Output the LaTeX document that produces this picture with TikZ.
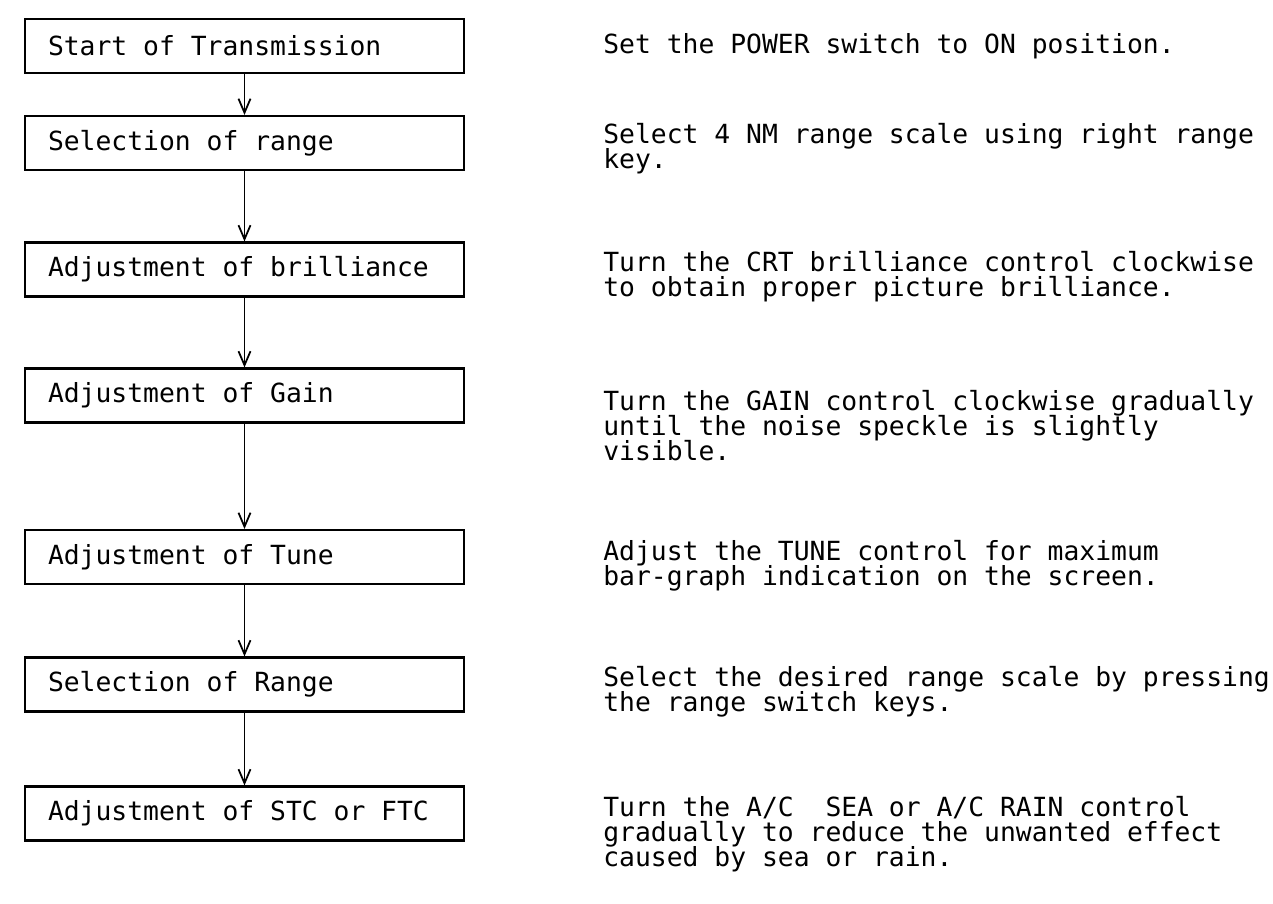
\documentclass[tikz,border=0pt]{standalone}
\usepackage{fontspec}
\setmonofont{DejaVu Sans Mono}
\usetikzlibrary{arrows.meta}

% left-set label of fixed width inside a step box
\newcommand{\steptext}[1]{\makebox[7.86cm][l]{#1}}
% typed text, lines always one baseline apart
\newcommand{\typedfont}{\ttfamily\fontsize{15}{14.3}\selectfont\lineskiplimit-10pt\relax}

\begin{document}
\begin{tikzpicture}[
    stepbox/.style={draw, line width=1.2pt, minimum height=1.08cm,
      inner xsep=0.46cm, font=\typedfont},
    stepnote/.style={anchor=north west, inner sep=0pt, align=left,
      font=\typedfont},
    flow/.style={line width=1pt, -{Straight Barb[length=2.8mm,width=2.4mm]}}
  ]

    \useasboundingbox (0,0) rectangle (25.46,-18.08);

    % Steps down the left side
    \node[stepbox] (s1) at (4.89,-0.92) {\steptext{Start of Transmission}};
    \node[stepbox] (s2) at (4.89,-2.86) {\steptext{Selection of range}};
    \node[stepbox] (s3) at (4.89,-5.39) {\steptext{Adjustment of brilliance}};
    \node[stepbox] (s4) at (4.89,-7.91) {\steptext{Adjustment of Gain}};
    \node[stepbox] (s5) at (4.89,-11.14) {\steptext{Adjustment of Tune}};
    \node[stepbox] (s6) at (4.89,-13.69) {\steptext{Selection of Range}};
    \node[stepbox] (s7) at (4.89,-16.27) {\steptext{Adjustment of STC or FTC}};

    % Arrows from step to step
    \foreach \a/\b in {s1/s2,s2/s3,s3/s4,s4/s5,s5/s6,s6/s7}
    \draw[flow] (\a.south) -- (\b.north);

    % What to do at each step
    \node[stepnote] (n1) at (12.06,-0.66) {Set the POWER switch to ON position.};
    \node[stepnote] (n2) at (12.06,-2.45)
    {Select 4 NM range scale using right range\\key.};
    \node[stepnote] (n3) at (12.06,-5.02)
    {Turn the CRT brilliance control clockwise\\to obtain proper picture brilliance.};
    \node[stepnote] (n4) at (12.06,-7.80)
    {Turn the GAIN control clockwise gradually\\until the noise speckle is slightly\\visible.};
    \node[stepnote] (n5) at (12.06,-10.80)
    {Adjust the TUNE control for maximum\\bar-graph indication on the screen.};
    \node[stepnote] (n6) at (12.06,-13.32)
    {Select the desired range scale by pressing\\the range switch keys.};
    \node[stepnote] (n7) at (12.06,-15.92)
    {Turn the A/C~~SEA or A/C RAIN control\\gradually to reduce the unwanted effect\\caused by sea or rain.};

\end{tikzpicture}
\end{document}
